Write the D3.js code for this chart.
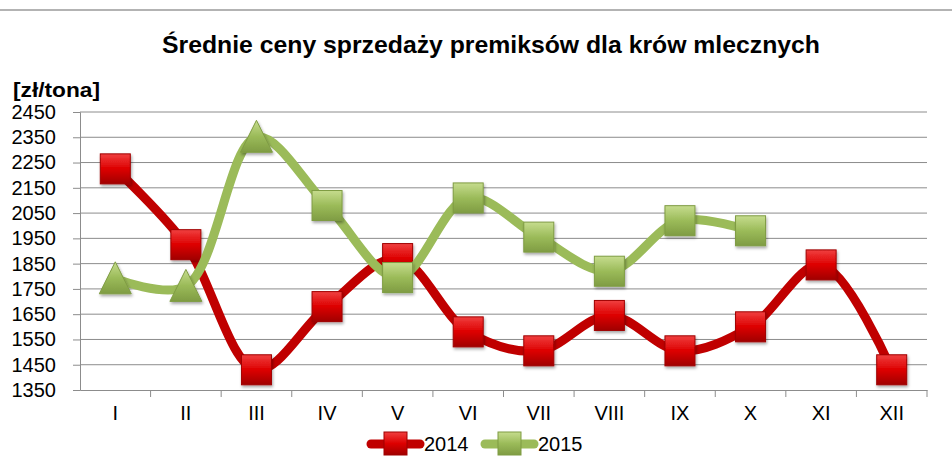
<!DOCTYPE html>
<html><head><meta charset="utf-8">
<script src="https://cdn.jsdelivr.net/npm/d3@7"></script>
<style>body{margin:0;background:#fff}svg{display:block}</style>
</head><body>
<svg id="c" width="952" height="473"></svg>
<script>
const categories = ["I","II","III","IV","V","VI","VII","VIII","IX","X","XI","XII"];
const values2014 = [2225,1925,1430,1680,1870,1580,1505,1645,1505,1600,1845,1430];
const values2015 = [1790,1760,2350,2080,1795,2110,1955,1820,2020,1980];
const yTicks = [1350,1450,1550,1650,1750,1850,1950,2050,2150,2250,2350,2450];
const seriesNames = ["2014","2015"];

const svg = d3.select("#c");
const font = "'Liberation Sans Narrow','Liberation Sans',Arial,sans-serif";
const W=952,H=473;
const m={l:80,r:25,t:112,b:83};
const x = d3.scaleBand().domain(categories).range([m.l,W-m.r]);
const y = d3.scaleLinear().domain([1350,2450]).range([H-m.b,m.t]);

const defs = svg.append("defs");
function grad(id,c1,c2,c3){
  const g=defs.append("linearGradient").attr("id",id).attr("x1",0).attr("y1",0).attr("x2",0).attr("y2",1);
  g.append("stop").attr("offset","0%").attr("stop-color",c1);
  g.append("stop").attr("offset","50%").attr("stop-color",c2);
  g.append("stop").attr("offset","100%").attr("stop-color",c3);
}
grad("gr","#f04040","#dd0000","#a00000");
grad("gg","#c6dc8e","#9bbb59","#7f9c43");
const f=defs.append("filter").attr("id","sh").attr("x","-30%").attr("y","-30%").attr("width","160%").attr("height","160%");
f.append("feDropShadow").attr("dx",1).attr("dy",2).attr("stdDeviation",1.5).attr("flood-opacity",0.35);

// top border line
svg.append("line").attr("x1",0).attr("x2",W).attr("y1",10).attr("y2",10).attr("stroke","#9a9a9a").attr("stroke-width",1.5);

svg.append("text").attr("x",491).attr("y",53).attr("text-anchor","middle")
  .attr("font-family","'Liberation Sans',Arial,sans-serif").attr("font-weight","bold").attr("font-size",24)
  .attr("textLength",658).attr("lengthAdjust","spacingAndGlyphs")
  .text("Średnie ceny sprzedaży premiksów dla krów mlecznych");
svg.append("text").attr("x",13).attr("y",97)
  .attr("font-family","'Liberation Sans',Arial,sans-serif").attr("font-weight","bold").attr("font-size",20)
  .attr("textLength",87).attr("lengthAdjust","spacingAndGlyphs")
  .text("[zł/tona]");

// gridlines
svg.append("g").selectAll("line").data(yTicks.slice(1)).join("line")
  .attr("x1",m.l).attr("x2",W-m.r).attr("y1",d=>y(d)).attr("y2",d=>y(d))
  .attr("stroke","#8c8c8c").attr("stroke-width",1);

const ya = svg.append("g").attr("transform",`translate(${m.l},0)`)
  .call(d3.axisLeft(y).tickValues(yTicks).tickSize(7).tickPadding(17).tickFormat(d3.format("d")));
ya.select(".domain").attr("stroke","#8c8c8c");
ya.selectAll(".tick line").attr("stroke","#8c8c8c");
ya.selectAll("text").attr("font-family",font).attr("font-size",20).attr("fill","#000");

const xa = svg.append("g").attr("transform",`translate(0,${H-m.b})`)
  .call(d3.axisBottom(x).tickSize(0).tickPadding(16));
xa.select(".domain").attr("stroke","#8c8c8c");
xa.selectAll("text").attr("font-family",font).attr("font-size",20).attr("fill","#000");
// category separators
svg.append("g").selectAll("line").data(categories.slice(1).concat(["__end"])).join("line")
  .attr("x1",(d,i)=>m.l+(i+1)*x.bandwidth()).attr("x2",(d,i)=>m.l+(i+1)*x.bandwidth())
  .attr("y1",H-m.b).attr("y2",H-m.b+7).attr("stroke","#8c8c8c");

const line = d3.line().x(d=>x(d.c)+x.bandwidth()/2).y(d=>y(d.v)).curve(d3.curveCatmullRom.alpha(0.5));
const s14 = values2014.map((v,i)=>({c:categories[i],v}));
const s15 = values2015.map((v,i)=>({c:categories[i],v}));

const sq=30;
function square(g,cx,cy,fill,stroke,s){
  g.append("rect").attr("x",cx-s/2).attr("y",cy-s/2).attr("width",s).attr("height",s)
   .attr("fill",fill).attr("stroke",stroke).attr("stroke-width",1).attr("filter","url(#sh)");
}
function tri(g,cx,cy,fill,stroke,s){
  const h=s;
  g.append("path").attr("d",`M${cx},${cy-h/2-2}L${cx+s/2+1},${cy+h/2}L${cx-s/2-1},${cy+h/2}Z`)
   .attr("fill",fill).attr("stroke",stroke).attr("stroke-width",1).attr("filter","url(#sh)");
}

// 2014 series first
svg.append("path").datum(s14).attr("d",line).attr("fill","none").attr("stroke","#c00000").attr("stroke-width",9).attr("stroke-linecap","round");
const gm14=svg.append("g");
s14.forEach(d=>{square(gm14,x(d.c)+x.bandwidth()/2,y(d.v),"url(#gr)","#a00000",sq);});

// 2015 series on top
svg.append("path").datum(s15).attr("d",line).attr("fill","none").attr("stroke","#9bbb59").attr("stroke-width",9).attr("stroke-linecap","round");
const gm15=svg.append("g");
s15.forEach((d,i)=>{
  const cx=x(d.c)+x.bandwidth()/2, cy=y(d.v);
  if(i<3) tri(gm15,cx,cy,"url(#gg)","#7f9c43",sq); else square(gm15,cx,cy,"url(#gg)","#7f9c43",sq);
});

// legend
const lg=svg.append("g");
const leg=[{n:seriesNames[0],c:"#c00000",f:"url(#gr)",s:"#a00000",x0:371},{n:seriesNames[1],c:"#9bbb59",f:"url(#gg)",s:"#7f9c43",x0:485}];
leg.forEach(L=>{
  lg.append("line").attr("x1",L.x0).attr("x2",L.x0+49).attr("y1",444).attr("y2",444).attr("stroke",L.c).attr("stroke-width",9).attr("stroke-linecap","round");
  lg.append("rect").attr("x",L.x0+13).attr("y",432).attr("width",23).attr("height",23).attr("fill",L.f).attr("stroke",L.s);
  lg.append("text").attr("x",L.x0+53).attr("y",451).attr("font-family",font).attr("font-size",20).text(L.n);
});
</script>
</body></html>
